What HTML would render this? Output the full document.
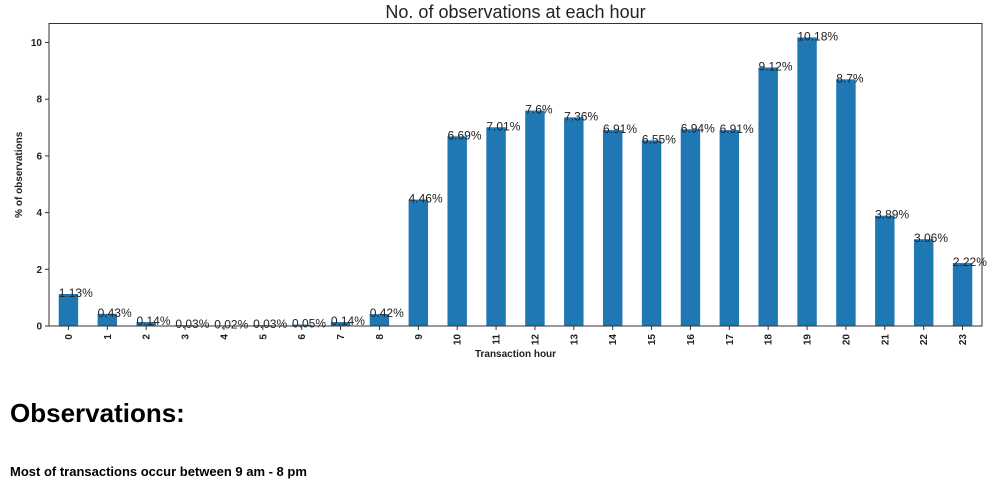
<!DOCTYPE html>
<html><head><meta charset="utf-8"><style>
body{margin:0;background:#fff;width:997px;height:494px;overflow:hidden;font-family:"Liberation Sans",sans-serif;}
svg{position:absolute;left:0;top:0}
h2{position:absolute;left:10px;top:398px;margin:0;font-size:26px;font-weight:bold;}
p{position:absolute;left:10px;top:464px;margin:0;font-size:13px;font-weight:bold;}
</style></head><body>
<svg id="chart" width="997" height="360"></svg>
<h2>Observations:</h2>
<p>Most of transactions occur between 9 am - 8 pm</p>
<script>
const categories=["0","1","2","3","4","5","6","7","8","9","10","11","12","13","14","15","16","17","18","19","20","21","22","23"];
const values=[1.13,0.43,0.14,0.03,0.02,0.03,0.05,0.14,0.42,4.46,6.69,7.01,7.6,7.36,6.91,6.55,6.94,6.91,9.12,10.18,8.7,3.89,3.06,2.22];
const labels=["1.13%","0.43%","0.14%","0.03%","0.02%","0.03%","0.05%","0.14%","0.42%","4.46%","6.69%","7.01%","7.6%","7.36%","6.91%","6.55%","6.94%","6.91%","9.12%","10.18%","8.7%","3.89%","3.06%","2.22%"];
const yTicks=[0,2,4,6,8,10];
const L=49,R=982,T=23.5,B=326;
const step=(R-L)/categories.length,bw=step*0.5;
const y=v=>B-v*28.35;
const x=i=>L+i*step+(step-bw)/2;
const svg=document.getElementById('chart');
const NS='http://www.w3.org/2000/svg';
function mk(t,a,txt){const e=document.createElementNS(NS,t);for(const k in a)e.setAttribute(k,a[k]);if(txt!==undefined)e.textContent=txt;svg.appendChild(e);return e;}
let t=mk('text',{x:(L+R)/2,y:18,'text-anchor':'middle','font-size':18,fill:'#222'},'No. of observations at each hour');


values.forEach((v,i)=>{
 const r=mk('rect',{x:x(i),y:y(v),width:bw,height:B-y(v),fill:'#1f77b4'});
 
 
 const l=mk('text',{x:x(i),y:y(v)+3,'font-size':12,fill:'#222'},labels[i]);
 
 
 const cx=x(i)+bw/2;
 mk('line',{x1:cx,x2:cx,y1:B,y2:B+4,stroke:'#333'});
 const tl=mk('text',{transform:`translate(${cx+3.5},${B+8}) rotate(-90)`,'text-anchor':'end','font-size':10,'font-weight':'bold',fill:'#222'},categories[i]);
 
 
});
yTicks.forEach(v=>{
 mk('line',{x1:L-4,x2:L,y1:y(v),y2:y(v),stroke:'#333'});
 const tl=mk('text',{x:L-7,y:y(v)+3.5,'text-anchor':'end','font-size':10,'font-weight':'bold',fill:'#222'},v);
 
 
});
const ax=mk('rect',{x:L,y:T,width:R-L,height:B-T,fill:'none',stroke:'#333','stroke-width':1});


const xt=mk('text',{x:(L+R)/2,y:357,'text-anchor':'middle','font-size':10,'font-weight':'bold',fill:'#222'},'Transaction hour');


const yt=mk('text',{transform:`translate(22,${(T+B)/2}) rotate(-90)`,'text-anchor':'middle','font-size':10,'font-weight':'bold',fill:'#222'},'% of observations');


</script>
</body></html>
